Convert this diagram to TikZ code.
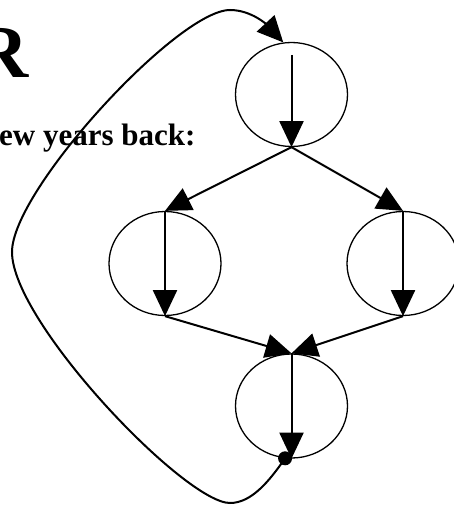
\documentclass[tikz,border=0pt]{standalone}
\usepackage{fontspec}
\setmainfont{Liberation Serif}
\usetikzlibrary{positioning, arrows.meta, shapes.geometric}
\tikzstyle{block} = [draw=black, ellipse, line width=1.3pt, minimum width=112pt, minimum height=104pt, inner sep=0pt]
\tikzstyle{flow} = [line width=2pt, -{Triangle[length=26pt, width=24pt]}]
\tikzstyle{joint} = [circle, fill=black, inner sep=0pt, minimum size=14pt]

\begin{document}
\begin{tikzpicture}[x=1pt, y=-1pt]
		\useasboundingbox (0,0) rectangle (454,505);
		\clip (0,0) rectangle (454,505);
		
		% Heading
		\node[anchor=base east, inner sep=0pt, font=\fontsize{75}{80}\selectfont\bfseries] (title) at (29,78) {R};
		\node[anchor=base west, inner sep=0pt, font=\fontsize{31}{36}\selectfont\bfseries] (intro) at (-1,146) {ew years back:};
		
		% Blocks
		\node[block] (top) at (291.5,94.5) {};
		\node[block] (left) at (165,263.5) {};
		\node[block] (right) at (403,263.5) {};
		\node[block] (bottom) at (291.5,406) {};
		
		% join point
		\node[joint] (joint) at (bottom.263) {};
		
		% connections
		\draw [flow] ([yshift=-13pt]top.north) -- (top.south);
		\draw [flow] (left.north) -- (left.south);
		\draw [flow] (right.north) -- (right.south);
		\draw [flow] (bottom.north) -- (bottom.south);
		\draw [flow] (top.south) -- (left.north);
		\draw [flow] (top.south) -- (right.north);
		\draw [flow] (left.south) -- (bottom.north);
		\draw [flow] (right.south) -- (bottom.north);
		
		% loop back
		\draw [flow] (joint.center) .. controls (270,480) and (252,503) .. (230,503)
			.. controls (185,503) and (12,322) .. (12,252)
			.. controls (12,190) and (178,10) .. (230,10)
			.. controls (252,10) and (268,26) .. (top.99);
		
	\end{tikzpicture}
\end{document}
